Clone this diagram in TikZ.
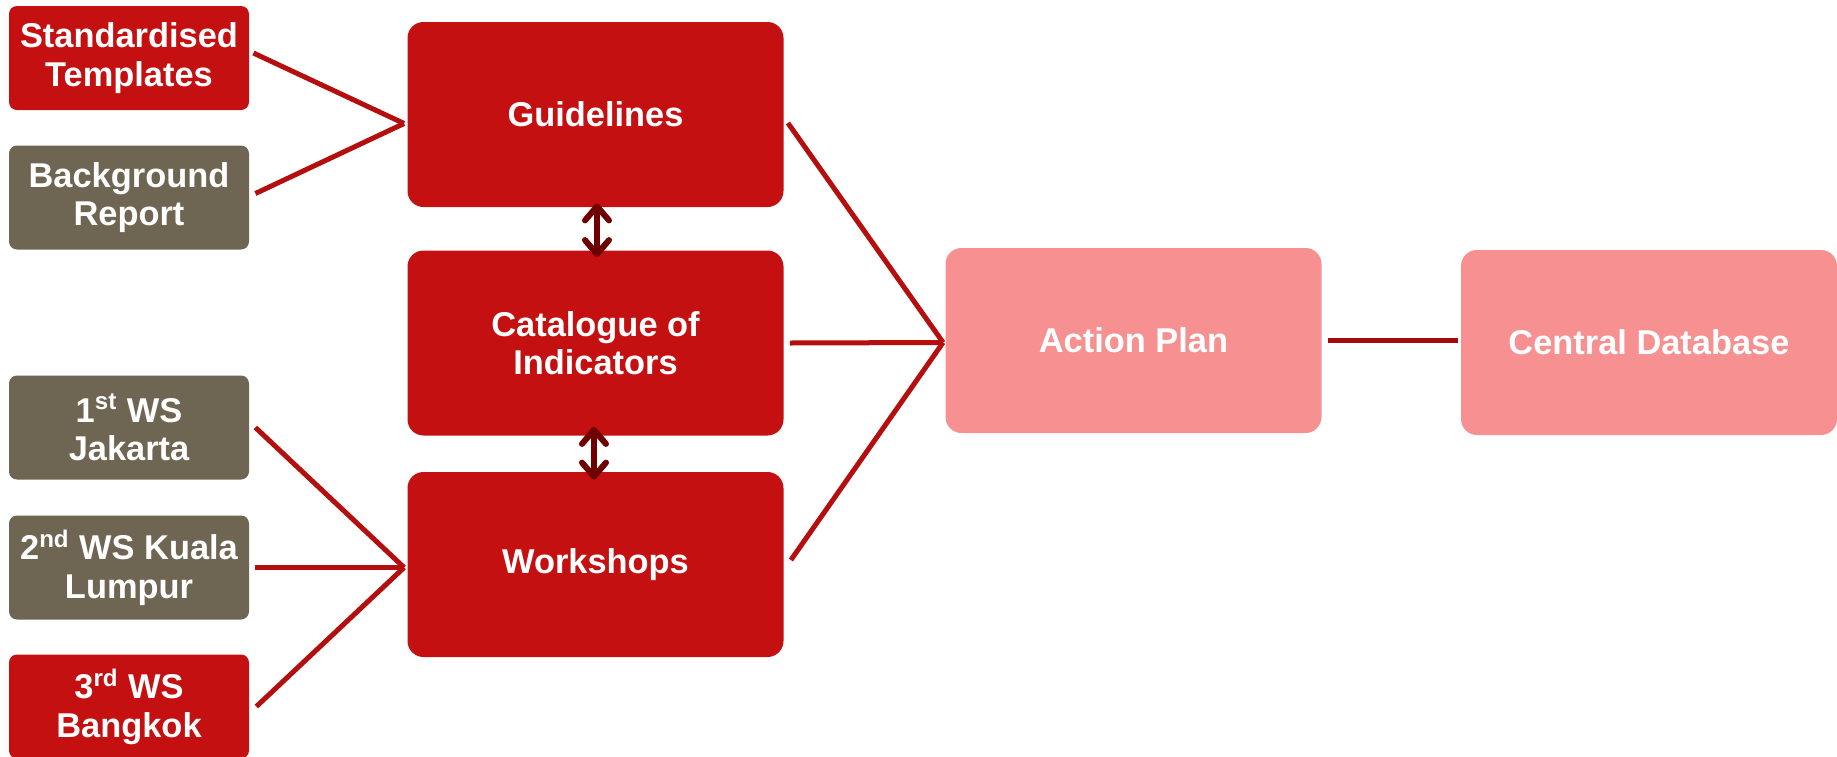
\documentclass[tikz,border=0pt]{standalone}
\usepackage{fontspec}
\setmainfont{Liberation Sans}
\usetikzlibrary{arrows.meta}
\definecolor{boxred}{RGB}{196,16,16}
\definecolor{boxgrey}{RGB}{110,101,82}
\definecolor{boxpink}{RGB}{247,145,145}
\definecolor{linkred}{RGB}{180,14,14}
\definecolor{dbline}{RGB}{160,10,10}
\definecolor{arrowdark}{RGB}{110,0,0}
\begin{document}
\begin{tikzpicture}[x=0.5pt, y=-0.5pt,
	every node/.style={text=white, font=\fontsize{17.2}{19.3}\selectfont\bfseries, align=center, inner sep=0pt},
	small/.style={minimum width=120pt, minimum height=52pt, rounded corners=4pt},
	big/.style={minimum width=188pt, minimum height=92.5pt, rounded corners=8pt},
	link/.style={draw=linkred, line width=2.5pt},
	twoway/.style={draw=arrowdark, line width=3pt, {Straight Barb[length=7pt,width=12pt,round]}-{Straight Barb[length=7pt,width=12pt,round]}}]
		\useasboundingbox (0,0) rectangle (1837,756);
		% inputs on the left
		\node[small, fill=boxred] at (129,58) (std) {Standardised\\Templates};
		\node[small, fill=boxgrey] at (129,197.5) (bg) {Background\\Report};
		\node[small, fill=boxgrey] at (129,427.5) (ws1) {1\textsuperscript{st} WS\\Jakarta};
		\node[small, fill=boxgrey] at (129,567.5) (ws2) {2\textsuperscript{nd} WS Kuala\\Lumpur};
		\node[small, fill=boxred] at (129,706.5) (ws3) {3\textsuperscript{rd} WS\\Bangkok};
		% middle column
		\node[big, fill=boxred] at (595.5,114.5) (guide) {Guidelines};
		\node[big, fill=boxred] at (595.5,343) (cat) {Catalogue of\\Indicators};
		\node[big, fill=boxred] at (595.5,564.5) (work) {Workshops};
		% outputs
		\node[big, fill=boxpink] at (1133.5,340.5) (action) {Action Plan};
		\node[big, fill=boxpink] at (1649,342.5) (db) {Central Database};
		% join points
		\coordinate (gin) at ([shift={(-3,9)}]guide.west);
		\coordinate (win) at ([shift={(-3,3)}]work.west);
		\coordinate (ain) at ([shift={(-2,2)}]action.west);
		\draw[link] ([shift={(4,-5)}]std.east) -- (gin);
		\draw[link] ([shift={(6,-4)}]bg.east) -- (gin);
		\draw[link] ([shift={(6,0)}]ws1.east) -- (win);
		\draw[link] ([shift={(6,0)}]ws2.east) -- (win);
		\draw[link] ([shift={(7,0)}]ws3.east) -- (win);
		\draw[link] ([shift={(4,8.5)}]guide.east) -- (ain);
		\draw[link] ([shift={(6,0)}]cat.east) -- (ain);
		\draw[link] ([shift={(7,-4.5)}]work.east) -- (ain);
		\draw[draw=dbline, line width=2.5pt] ([shift={(6,0)}]action.east) -- ([shift={(-3,-2)}]db.west);
		% two-way arrows
		\draw[twoway] ([shift={(1.5,-4)}]guide.south) -- ([shift={(1.5,7)}]cat.north);
		\draw[twoway] ([shift={(-1.5,-9)}]cat.south) -- ([shift={(-1.5,8)}]work.north);
		\end{tikzpicture}
\end{document}
